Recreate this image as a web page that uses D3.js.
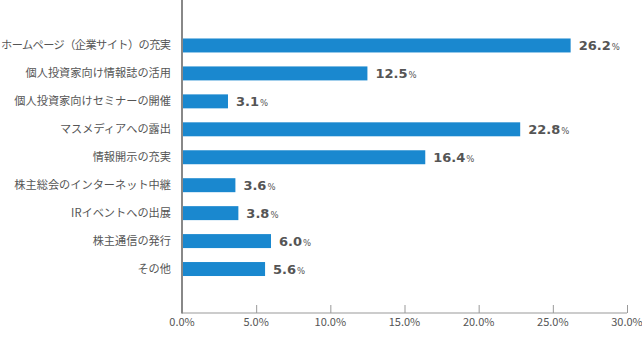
<!DOCTYPE html>
<html><head><meta charset="utf-8">
<script src="https://cdn.jsdelivr.net/npm/d3@7"></script>
<style>body{margin:0;background:#fff;}svg{display:block;}</style>
</head><body><svg id="c" width="642" height="343"></svg>
<script>
const categories = ["ホームページ（企業サイト）の充実","個人投資家向け情報誌の活用","個人投資家向けセミナーの開催","マスメディアへの露出","情報開示の充実","株主総会のインターネット中継","IRイベントへの出展","株主通信の発行","その他"];
const values = [26.2, 12.5, 3.1, 22.8, 16.4, 3.6, 3.8, 6.0, 5.6];
const xTicks = [0, 5, 10, 15, 20, 25, 30];

const svg = d3.select("#c");
const font = "'Noto Sans CJK JP', 'Noto Sans', sans-serif";
const x = d3.scaleLinear().domain([0, 30]).range([182, 627]);
const y = d3.scaleBand().domain(categories).range([31.5, 283]).paddingInner(0.5).paddingOuter(0.25);

// bars
svg.selectAll("rect.bar").data(values).join("rect")
  .attr("x", x(0)).attr("y", (d, i) => y(categories[i]))
  .attr("width", d => x(d) - x(0)).attr("height", y.bandwidth())
  .attr("fill", "#1a88cf");

// value labels
const vl = svg.selectAll("text.val").data(values).join("text")
  .attr("x", d => x(d) + 8).attr("y", (d, i) => y(categories[i]) + y.bandwidth() / 2 + 5)
  .attr("font-family", "'DejaVu Sans', sans-serif").attr("fill", "#555");
vl.append("tspan").attr("font-size", 13).attr("font-weight", "bold").text(d => d.toFixed(1));
vl.append("tspan").attr("font-size", 8.5).attr("dx", 1).text("%");

// category labels
const cl = svg.selectAll("text.cat").data(categories).join("text")
  .attr("x", 171).attr("y", d => y(d) + y.bandwidth() / 2 + 4)
  .attr("text-anchor", "end").attr("font-family", font).attr("font-size", 11.2)
  .attr("fill", "#555")
  .text(d => d);
cl.each(function () {
  const w = this.getComputedTextLength();
  if (w > 170) d3.select(this).attr("textLength", 170).attr("lengthAdjust", "spacing");
});

// axes
const ax = svg.append("g").attr("transform", "translate(0,313)")
  .call(d3.axisTop(x).tickValues(xTicks).tickSize(8).tickFormat(() => ""));
ax.select(".domain").remove();
ax.selectAll(".tick line").attr("stroke", "#999");
svg.append("line").attr("x1", x(0)).attr("x2", x(30)).attr("y1", 313).attr("y2", 313).attr("stroke", "#999").attr("stroke-width", 1.2);
svg.append("line").attr("x1", x(0)).attr("x2", x(0)).attr("y1", 0).attr("y2", 313.5).attr("stroke", "#888").attr("stroke-width", 2);

svg.selectAll("text.tick").data(xTicks).join("text")
  .attr("x", d => x(d)).attr("y", 326).attr("text-anchor", "middle")
  .attr("font-family", font).attr("font-size", 11).attr("fill", "#555")
  .text(d => d.toFixed(1) + "%");
</script></body></html>
